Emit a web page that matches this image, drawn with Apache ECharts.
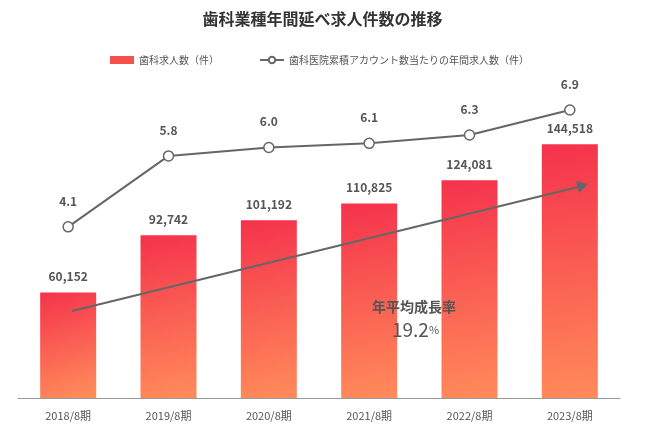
<!DOCTYPE html>
<html><head><meta charset="utf-8">
<script src="https://cdn.jsdelivr.net/npm/echarts@6/dist/echarts.min.js"></script>
<style>html,body{margin:0;padding:0;background:#fff}#c{width:645px;height:446px}</style>
</head><body><div id="c"></div>
<script>
const categories = ['2018/8期','2019/8期','2020/8期','2021/8期','2022/8期','2023/8期'];
const jobCounts = [60152, 92742, 101192, 110825, 124081, 144518];
const perAccount = [4.1, 5.8, 6.0, 6.1, 6.3, 6.9];
const ff = '"Noto Sans CJK JP","Noto Sans",sans-serif';
const chart = echarts.init(document.getElementById('c'));
chart.setOption({
  animation:false,
  textStyle:{fontFamily:ff},
  title:{text:'歯科業種年間延べ求人件数の推移',left:'center',top:6,textStyle:{fontSize:16,fontWeight:'bold',color:'#333',fontFamily:ff}},
  legend:{top:50,left:105,itemGap:40,itemWidth:24,itemHeight:8,textStyle:{fontSize:10,color:'#555'},
    data:[{name:'歯科求人数（件）',icon:'rect',itemStyle:{color:'#f6504b'}},{name:'歯科医院累積アカウント数当たりの年間求人数（件）'}]},
  grid:{left:18,right:25,top:82,bottom:48},
  xAxis:{type:'category',data:categories,axisTick:{show:false},
    axisLine:{lineStyle:{color:'#999'}},axisLabel:{color:'#555',fontSize:11,margin:12}},
  yAxis:[{type:'value',min:0,max:180000,show:false,splitLine:{show:false}},
         {type:'value',min:0,max:7.57,show:false,splitLine:{show:false}}],
  series:[
    {name:'歯科求人数（件）',type:'bar',data:jobCounts,barWidth:56,
      itemStyle:{color:new echarts.graphic.LinearGradient(0,0,0.6,1,[{offset:0,color:'#f5324c'},{offset:1,color:'#ff8a5a'}])},
      label:{show:true,position:'top',distance:10,color:'#555',fontSize:12,fontWeight:'bold',
        formatter:p=>p.value.toLocaleString('en-US')}},
    {name:'歯科医院累積アカウント数当たりの年間求人数（件）',type:'line',yAxisIndex:1,data:perAccount,
      symbol:'circle',symbolSize:10,lineStyle:{color:'#666',width:2},
      itemStyle:{color:'#fff',borderColor:'#666',borderWidth:1.5},
      label:{show:true,position:'top',distance:14,color:'#555',fontSize:12,fontWeight:'bold',formatter:p=>p.value.toFixed(1)}}
  ],
  graphic:[
    {type:'line',z:100,shape:{x1:72,y1:311,x2:578,y2:187},style:{stroke:'#666',lineWidth:2}},
    {type:'polygon',z:100,shape:{points:[[588,184],[576,181],[579,193]]},style:{fill:'#666'}},
    {type:'text',z:100,left:372,top:300,style:{text:'年平均成長率',fontSize:14,fontWeight:'bold',fill:'#555',fontFamily:ff}},
    {type:'text',z:100,left:392,top:320,style:{rich:{a:{fontSize:19,fill:'#555',fontFamily:ff},b:{fontSize:11,fill:'#555',fontFamily:ff}},text:'{a|19.2}{b|%}'}}
  ]
});
</script></body></html>
